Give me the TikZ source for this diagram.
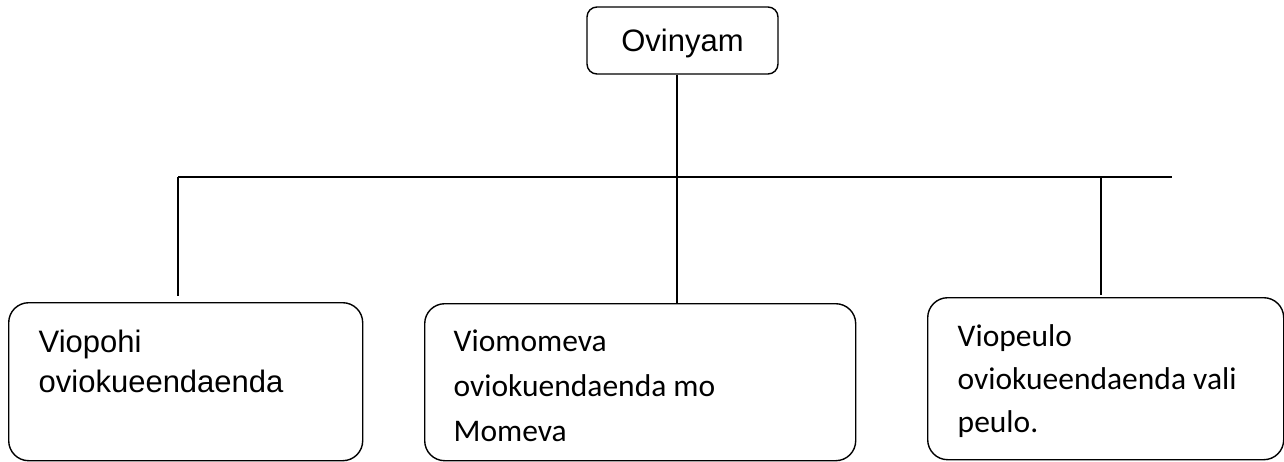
\documentclass[tikz,border=0pt]{standalone}
\usepackage{fontspec}
\setmainfont{Liberation Sans}
\newfontfamily\calfont{Carlito}
\begin{document}
\begin{tikzpicture}[x=1pt,y=-1pt,line width=1.4pt,
  box/.style={draw,inner sep=0pt,rounded corners=20pt,anchor=north west},
  topbox/.style={draw,inner sep=0pt,rounded corners=10pt,font=\fontsize{31}{37}\selectfont},
  arialtxt/.style={inner sep=0pt,anchor=base west,align=left,font=\fontsize{31}{40}\selectfont},
  caltxt/.style={inner sep=0pt,anchor=base west,align=left},
  conn/.style={draw,line width=1.4pt}]
\useasboundingbox (0,0) rectangle (1284,461);
\node[topbox,minimum width=191pt,minimum height=67pt,text depth=0pt] (top) at (682.5,40.5) {Ovinyam};
\node[box,minimum width=354pt,minimum height=158pt] (lbox) at (8,302) {};
\node[box,minimum width=431pt,minimum height=157pt] (mbox) at (424,303) {};
\node[box,minimum width=356pt,minimum height=162pt] (rbox) at (927,297) {};
\node[arialtxt] (ltxt) at (38,392) {Viopohi\\oviokueendaenda};
\node[caltxt,font=\calfont\fontsize{31.5}{45}\selectfont] (mtxt) at (453,441) {Viomomeva\\oviokuendaenda mo\\Momeva};
\node[caltxt,font=\calfont\fontsize{31.5}{43}\selectfont] (rtxt) at (957,432) {Viopeulo\\oviokueendaenda vali\\peulo.};
\coordinate (hl) at (178,177);
\coordinate (hr) at (1172,177);
\coordinate (md) at (677,303);
\coordinate (ld) at (178,296);
\coordinate (rt) at (1101,177);
\coordinate (rd) at (1101,295);
\draw[conn] (hl) -- (hr);
\draw[conn] (top.south -| md) -- (md);
\draw[conn] (hl) -- (ld);
\draw[conn] (rt) -- (rd);
\end{tikzpicture}
\end{document}
